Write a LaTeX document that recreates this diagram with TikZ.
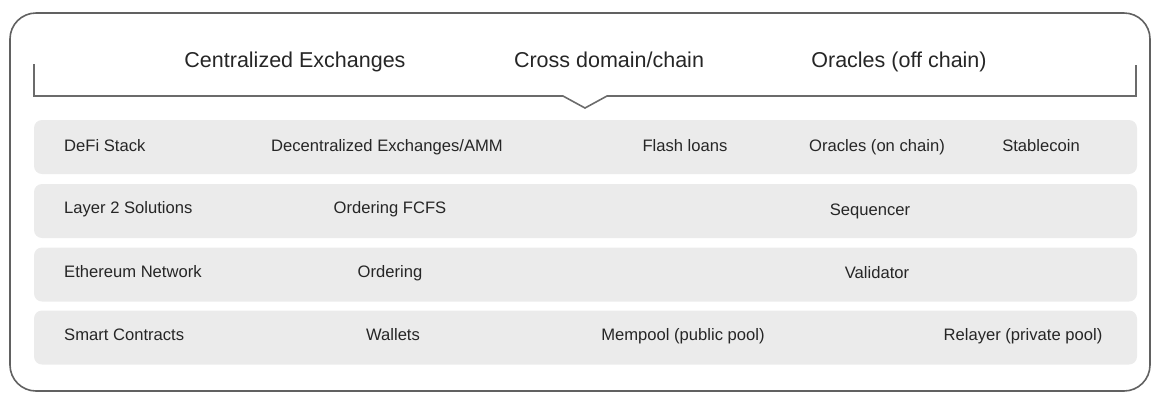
\documentclass[tikz,border=0pt]{standalone}
\usepackage{fontspec}
\setmainfont{Liberation Sans}
\begin{document}
\begin{tikzpicture}[x=1pt,y=-1pt,
  frame/.style={draw=black!62,line width=1.6pt},
  bracket/.style={draw=black!58,line width=1.6pt,line join=miter},
  layer/.style={fill=black!8,draw=none,rounded corners=8pt,minimum width=1103pt,minimum height=54pt,inner sep=0pt},
  head/.style={font=\fontsize{21.5}{24}\selectfont,text=black!85,inner sep=0pt,anchor=base},
  item/.style={font=\fontsize{16.6}{19}\selectfont,text=black!85,inner sep=0pt,anchor=base},
  lbl/.style={item,anchor=base west}]
\useasboundingbox (0,0) rectangle (1151,392);
\begin{scope}
\clip (0,0) rectangle (1151,392);
% outer rounded frame
\draw[frame,rounded corners=26pt] (10,13) rectangle (1150,391);
\end{scope}

% header labels
\node[head] (cex) at (295,67) {Centralized Exchanges};
\node[head] (xdom) at (609,67) {Cross domain/chain};
\node[head] (orof) at (899,67) {Oracles (off chain)};

% bracket with downward notch
\draw[bracket] (34,64) -- (34,96) -- (563,96) -- (585,108) -- (607,96) -- (1136,96) -- (1136,65);

% layer bands
\node[layer] (r1) at (585.5,147) {};
\node[layer] (r2) at (585.5,211) {};
\node[layer] (r3) at (585.5,274.5) {};
\node[layer] (r4) at (585.5,337.5) {};

% DeFi stack row
\node[lbl] (defi) at (64,151.5) {DeFi Stack};
\node[item] (dex) at (387,151.5) {Decentralized Exchanges/AMM};
\node[item] (flash) at (685,151.5) {Flash loans};
\node[item] (oron) at (877,151.5) {Oracles (on chain)};
\node[item] (stable) at (1041,151.5) {Stablecoin};

% layer 2 row
\node[lbl] (l2) at (64,213.5) {Layer 2 Solutions};
\node[item] (fcfs) at (390,213.5) {Ordering FCFS};
\node[item] (seq) at (870,215) {Sequencer};

% ethereum row
\node[lbl] (eth) at (64,277.5) {Ethereum Network};
\node[item] (ord) at (390,277.5) {Ordering};
\node[item] (val) at (877,278) {Validator};

% smart contracts row
\node[lbl] (sc) at (64,340) {Smart Contracts};
\node[item] (wal) at (393,340) {Wallets};
\node[item] (mem) at (683,340) {Mempool (public pool)};
\node[item] (rel) at (1023,340) {Relayer (private pool)};
\end{tikzpicture}
\end{document}
